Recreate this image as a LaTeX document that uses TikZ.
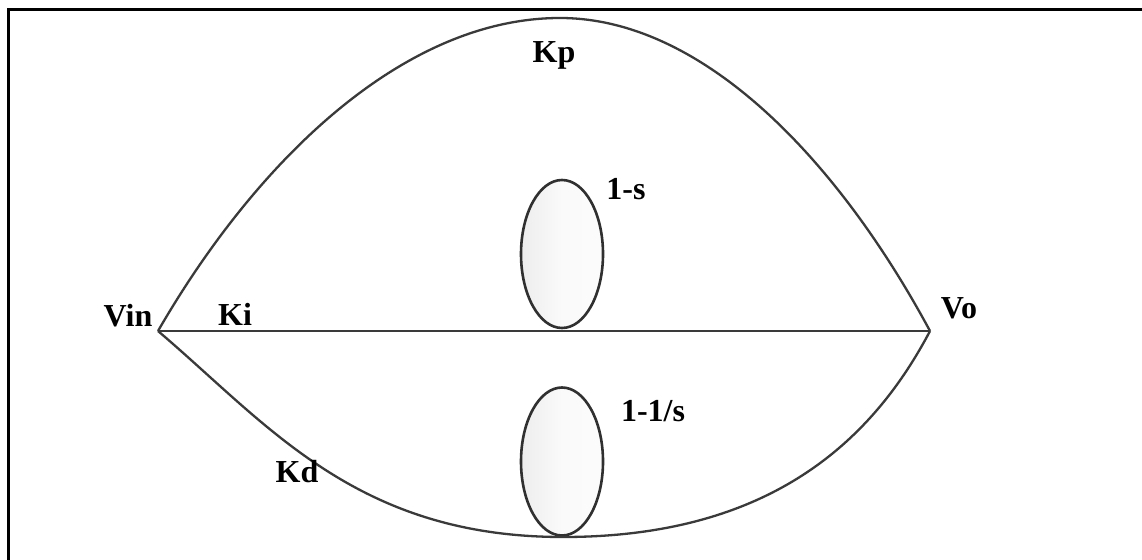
\documentclass[tikz,border=0pt]{standalone}
\usepackage{fontspec}
\setmainfont{Liberation Serif}
\usetikzlibrary{shapes.geometric}
\definecolor{linegray}{HTML}{3A3A3A}
\definecolor{ovalline}{HTML}{303030}
\tikzset{
  lbl/.style={font=\fontsize{32}{32}\selectfont\bfseries, inner sep=0pt, text=black},
  wire/.style={draw=linegray, line width=2.3pt},
  oval/.style={ellipse, draw=ovalline, line width=2.6pt, minimum width=82pt, minimum height=148pt, inner sep=0pt, left color=gray!14, right color=gray!3, middle color=gray!4},
  frame/.style={draw=black, line width=3.5pt}
}
\begin{document}
\begin{tikzpicture}[x=1pt,y=-1pt]
\useasboundingbox (0,0) rectangle (1142,559);
\fill[white] (0,0) rectangle (1142,559);
% frame (only top and left edges are visible)
\draw[frame] (1160,9.5) -- (8.5,9.5) -- (8.5,580);
% key points
\coordinate (vin) at (158,331);
\coordinate (vo) at (930,331);
\coordinate (peak) at (560,18);
\coordinate (low) at (563,537);
% ovals
\node[oval] (o1) at (562,254) {};
\node[oval] (o2) at (562,461.5) {};
% connectors
\draw[wire] (vin) -- (vo);
\draw[wire] (vin) .. controls (258,158) and (405,18) .. (peak)
                  .. controls (703,18) and (838,160) .. (vo);
\draw[wire] (vin) .. controls (268,424.5) and (356,537) .. (low)
                  .. controls (766,537) and (870,445) .. (vo);
% labels
\node[lbl] (lvin) at (128,316) {Vin};
\node[lbl] (lki) at (235,314) {Ki};
\node[lbl] (lvo) at (959,308) {Vo};
\node[lbl] (lkp) at (554,55) {Kp};
\node[lbl] (ls) at (626,189) {1-s};
\node[lbl] (lis) at (653,411) {1-1/s};
\node[lbl] (lkd) at (297,472) {Kd};
\end{tikzpicture}
\end{document}
